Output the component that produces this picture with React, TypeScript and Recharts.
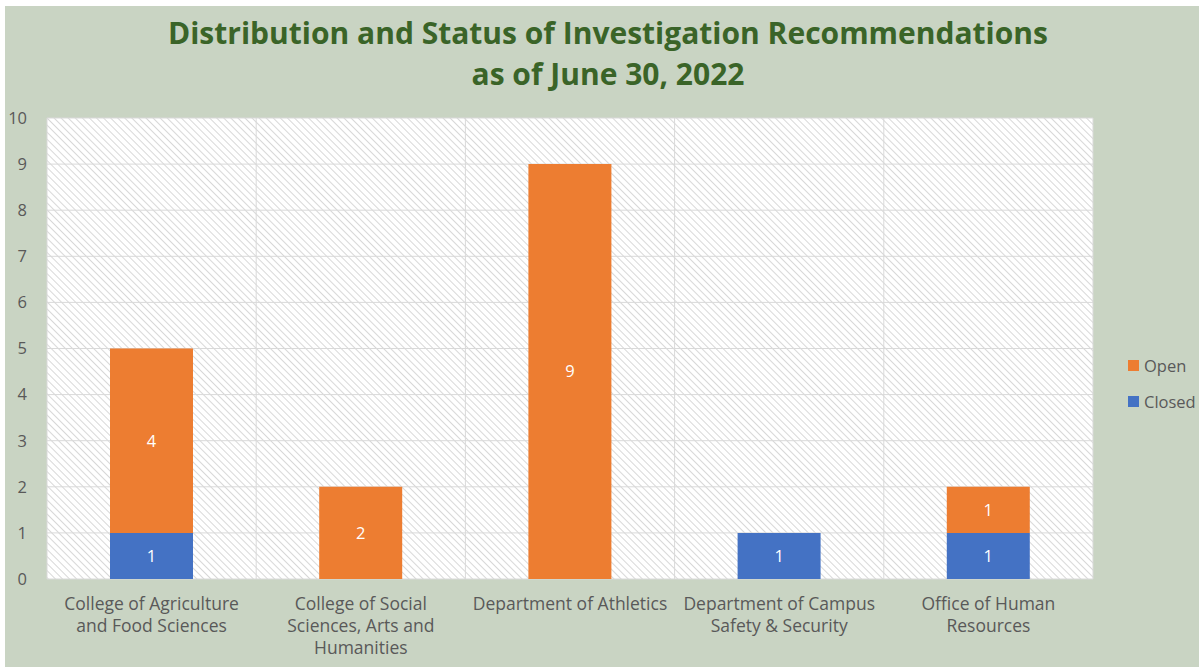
import React from "react";
import { BarChart, Bar, XAxis, YAxis, CartesianGrid, LabelList } from "recharts";

const categories = [
  "College of Agriculture and Food Sciences",
  "College of Social Sciences, Arts and Humanities",
  "Department of Athletics",
  "Department of Campus Safety & Security",
  "Office of Human Resources",
];

// wrapped tick labels, as they appear under each bar
const tickLines: string[][] = [
  ["College of Agriculture", "and Food Sciences"],
  ["College of Social", "Sciences, Arts and", "Humanities"],
  ["Department of Athletics"],
  ["Department of Campus", "Safety & Security"],
  ["Office of Human", "Resources"],
];

const closedValues = [1, 0, 0, 1, 1];
const openValues = [4, 2, 9, 0, 1];
const yTicks = [0, 1, 2, 3, 4, 5, 6, 7, 8, 9, 10];

const titleLines = ["Distribution and Status of Investigation Recommendations", "as of June 30, 2022"];

const BLUE = "#4472c4";
const ORANGE = "#ed7d31";
const GRAY = "#595959";
const FONT = "'Open Sans', sans-serif";

const data = categories.map((name, i) => ({
  name,
  closed: closedValues[i],
  open: openValues[i],
}));

const legendItems = [
  { label: "Open", color: ORANGE },
  { label: "Closed", color: BLUE },
];

function CategoryTick(props: any) {
  const { x, y, payload } = props;
  const idx = categories.indexOf(payload.value);
  const lines = tickLines[idx] || [payload.value];
  return (
    <text x={x} y={y} textAnchor="middle" fill={GRAY} fontSize={17.5} fontFamily={FONT}>
      {lines.map((l, i) => (
        <tspan key={i} x={x} dy={i === 0 ? 31 : 22}>
          {l}
        </tspan>
      ))}
    </text>
  );
}

const hideZero = (v: any) => (v ? v : "");

export default function App() {
  return (
    <div style={{ position: "absolute", left: 0, top: 0, width: 1199, height: 667, background: "#fff" }}>
      <div
        style={{
          position: "absolute",
          left: 5,
          top: 6,
          width: 1194,
          height: 661,
          background: "#c9d4c3",
          fontFamily: FONT,
        }}
      >
        <div
          style={{
            position: "absolute",
            left: 0,
            top: 6,
            width: 1206,
            textAlign: "center",
            color: "#3a6428",
            fontWeight: 700,
            fontSize: 30,
            lineHeight: "41px",
          }}
        >
          {titleLines.map((t) => (
            <div key={t}>{t}</div>
          ))}
        </div>

        <BarChart width={1194} height={661} data={data} margin={{ top: 112, right: 106, left: 0, bottom: 0 }}>
          <defs>
            <pattern id="hatch" width="5" height="5" patternUnits="userSpaceOnUse" patternTransform="rotate(-45)">
              <rect width="5" height="5" fill="#ffffff" />
              <line x1="0" y1="0" x2="0" y2="5" stroke="#cfcfcf" strokeWidth="1.6" />
            </pattern>
          </defs>
          <CartesianGrid
            fill="url(#hatch)"
            stroke="#d9d9d9"
            strokeWidth={1}
            verticalCoordinatesGenerator={({ offset }: any) =>
              categories.map((_, i) => offset.left + (i * offset.width) / categories.length).concat(offset.left + offset.width)
            }
          />
          <XAxis
            dataKey="name"
            height={88}
            interval={0}
            axisLine={false}
            tickLine={false}
            tickSize={0}
            tickMargin={0}
            tick={<CategoryTick />}
          />
          <YAxis
            width={42}
            domain={[0, 10]}
            ticks={yTicks}
            interval={0}
            axisLine={false}
            tickLine={false}
            tickSize={0}
            tickMargin={20}
            tick={{ fill: GRAY, fontSize: 16.5, fontFamily: FONT }}
          />
          <Bar dataKey="closed" stackId="s" fill={BLUE} barSize={83} isAnimationActive={false}>
            <LabelList dataKey="closed" position="center" fill="#fff" fontSize={16.5} fontFamily={FONT} formatter={hideZero} />
          </Bar>
          <Bar dataKey="open" stackId="s" fill={ORANGE} barSize={83} isAnimationActive={false}>
            <LabelList dataKey="open" position="center" fill="#fff" fontSize={16.5} fontFamily={FONT} formatter={hideZero} />
          </Bar>
        </BarChart>

        <div style={{ position: "absolute", left: 1123, top: 341, fontSize: 16.5, color: GRAY }}>
          {legendItems.map((it) => (
            <div key={it.label} style={{ display: "flex", alignItems: "center", height: 36 }}>
              <span style={{ display: "inline-block", width: 11, height: 11, background: it.color, marginRight: 5 }} />
              <span>{it.label}</span>
            </div>
          ))}
        </div>
      </div>
    </div>
  );
}
